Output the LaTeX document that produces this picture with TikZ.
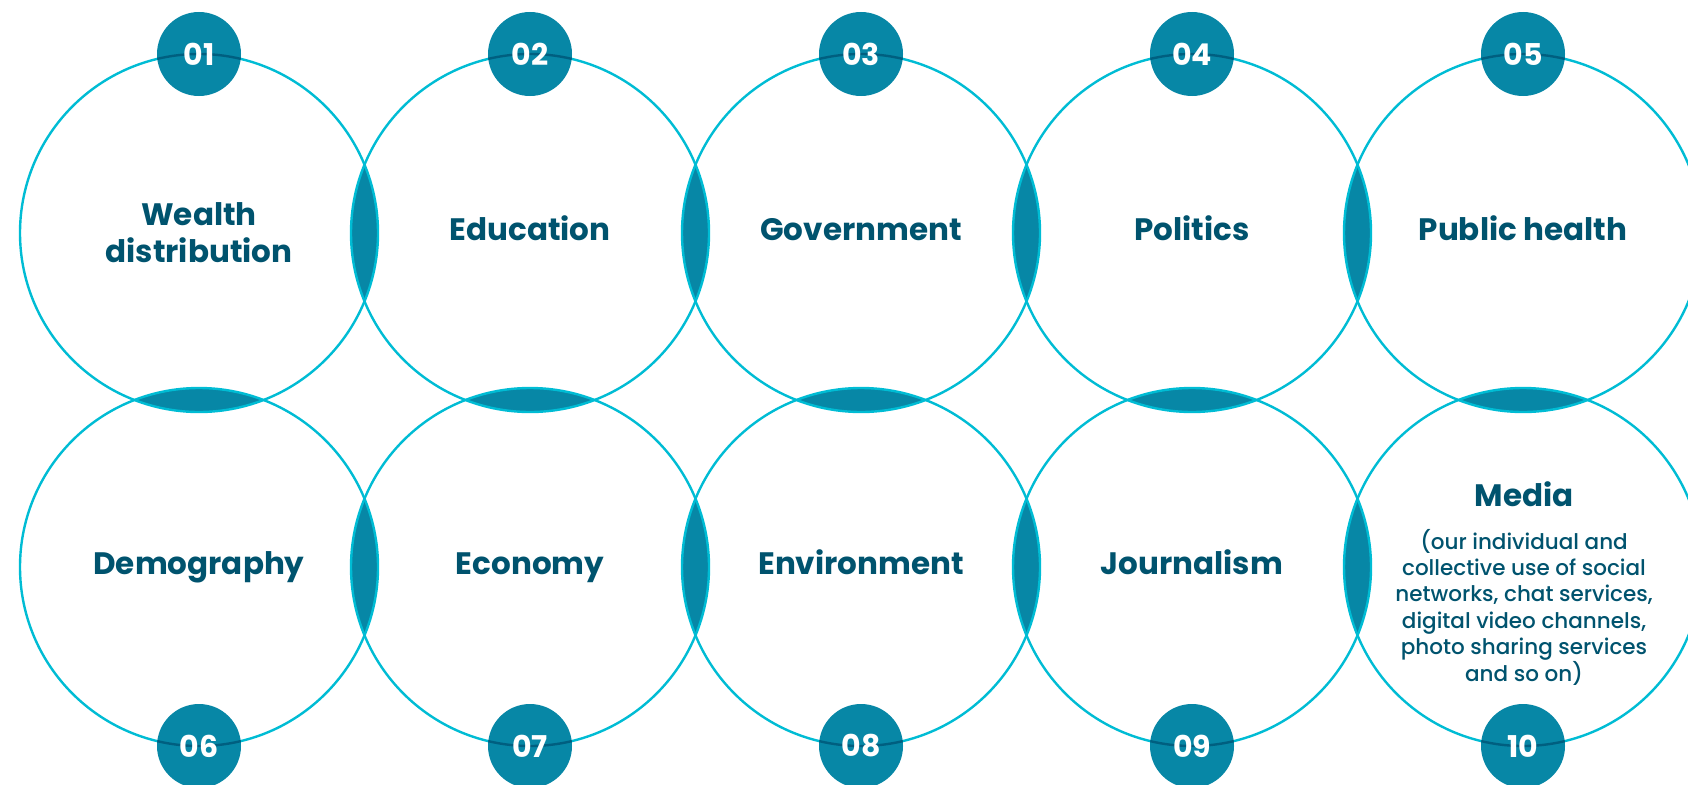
\documentclass[tikz,border=0pt]{standalone}
\usepackage{fontspec}
\setmainfont{Poppins}
\newfontfamily\medfont{Poppins Medium}
\definecolor{ringc}{HTML}{00BCD4}
\definecolor{badgec}{HTML}{0787A6}
\definecolor{textc}{HTML}{00536E}
\definecolor{arcc}{HTML}{005F80}
\begin{document}
\begin{tikzpicture}[x=1pt,y=-1pt,
  ring/.style={circle,draw=ringc,line width=2.4pt,minimum size=358pt,inner sep=0pt,
    font=\bfseries\fontsize{31}{37}\selectfont,text=textc,align=center},
  oneline/.style={text height=22pt,text depth=8pt},
  badge/.style={circle,fill=badgec,minimum size=84pt,inner sep=0pt,text=white,
    font=\bfseries\fontsize{30}{30}\selectfont},
  lens/.style={fill=badgec},
  desc/.style={font=\medfont\fontsize{21.5}{26.4}\selectfont,text=textc,align=center}]
\useasboundingbox (0,0) rectangle (1688,784);
\coordinate (p1) at (199,233);
\coordinate (p2) at (530,233);
\coordinate (p3) at (861,233);
\coordinate (p4) at (1192,233);
\coordinate (p5) at (1523,233);
\coordinate (p6) at (199,567);
\coordinate (p7) at (530,567);
\coordinate (p8) at (861,567);
\coordinate (p9) at (1192,567);
\coordinate (p10) at (1523,567);
% lenses
\foreach \a/\b in {p1/p2,p2/p3,p3/p4,p4/p5,p6/p7,p7/p8,p8/p9,p9/p10,p1/p6,p2/p7,p3/p8,p4/p9,p5/p10}{
  \begin{scope}
    \clip (\a) circle[radius=179pt];
    \fill[lens] (\b) circle[radius=179pt];
  \end{scope}
}
% rings
\node[ring] (c1) at (p1) {Wealth\\distribution};
\node[ring,oneline] (c2) at (p2) {Education};
\node[ring,oneline] (c3) at (p3) {Government};
\node[ring,oneline] (c4) at (p4) {Politics};
\node[ring,oneline] (c5) at (p5) {Public health};
\node[ring,oneline] (c6) at (p6) {Demography};
\node[ring,oneline] (c7) at (p7) {Economy};
\node[ring,oneline] (c8) at (p8) {Environment};
\node[ring,oneline] (c9) at (p9) {Journalism};
\node[ring] (c10) at (p10) {};
\node[font=\bfseries\fontsize{31}{37}\selectfont,text=textc] (mt) at (1524,494) {Media};
\node[desc] (md) at (1524,607) {(our individual and\\collective use of social\\networks, chat services,\\digital video channels,\\photo sharing services\\and so on)};
% badges
\foreach \n/\x/\y/\c in {01/199/54/p1,02/530/54/p2,03/861/54/p3,04/1192/54/p4,05/1523/54/p5,
  06/199/746/p6,07/530/746/p7,08/861/746/p8,09/1192/746/p9,10/1523/746/p10}{
  \node[badge,path picture={\draw[arcc,line width=2.4pt] (\c) circle[radius=179pt];}] (b\n) at (\x,\y) {\n};
}
\end{tikzpicture}
\end{document}
